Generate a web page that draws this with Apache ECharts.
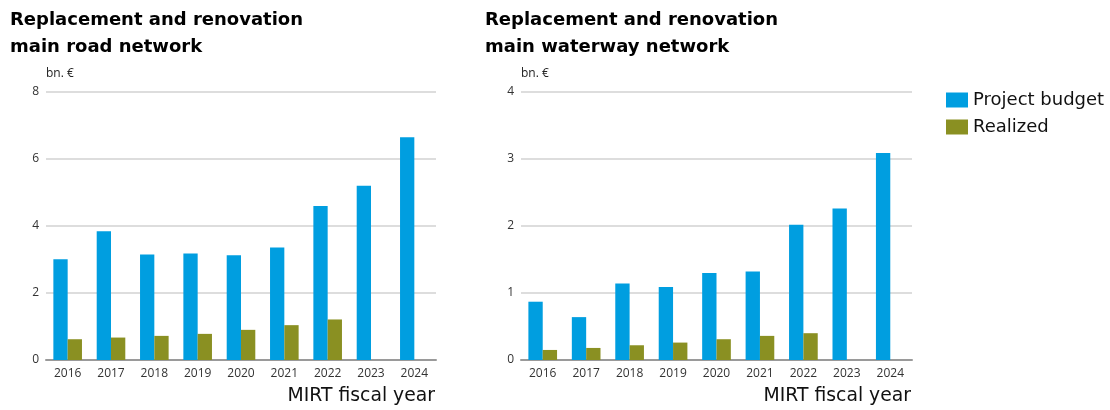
<!DOCTYPE html>
<html>
<head>
<meta charset="utf-8">
<script src="https://cdn.jsdelivr.net/npm/echarts@6/dist/echarts.min.js"></script>
<style>
  html, body { margin: 0; padding: 0; background: #fff; }
  #chart { width: 1110px; height: 410px; }
</style>
</head>
<body>
<div id="chart"></div>
<script>
// MIRT fiscal years
const years = ['2016', '2017', '2018', '2019', '2020', '2021', '2022', '2023', '2024'];

// Main road network, bn. €
const roadBudget   = [3.01, 3.84, 3.15, 3.18, 3.13, 3.36, 4.60, 5.20, 6.65];
const roadRealized = [0.62, 0.67, 0.72, 0.78, 0.90, 1.04, 1.21, null, null];

// Main waterway network, bn. €
const waterBudget   = [0.87, 0.64, 1.14, 1.09, 1.30, 1.32, 2.02, 2.26, 3.09];
const waterRealized = [0.15, 0.18, 0.22, 0.26, 0.31, 0.36, 0.40, null, null];

// Axis ticks
const roadTicks  = { min: 0, max: 8, interval: 2 };
const waterTicks = { min: 0, max: 4, interval: 1 };

const BLUE = '#009ee0';
const OLIVE = '#8a9022';
const FONT = '"DejaVu Sans", Verdana, sans-serif';
const TICK_FONT = '"Open Sans", sans-serif';

const chart = echarts.init(document.getElementById('chart'));

function xAxisFor(gridIndex) {
  return {
    type: 'category',
    gridIndex: gridIndex,
    data: years,
    axisLine: { lineStyle: { color: '#9a9a9a', width: 2 } },
    axisTick: { show: false },
    axisLabel: { color: '#333', fontFamily: TICK_FONT, fontSize: 12, margin: 8 }
  };
}

function yAxisFor(gridIndex, ticks) {
  return {
    type: 'value',
    gridIndex: gridIndex,
    min: ticks.min,
    max: ticks.max,
    interval: ticks.interval,
    name: 'bn. €',
    nameLocation: 'end',
    nameGap: 12,
    nameTextStyle: { color: '#222', fontFamily: TICK_FONT, fontSize: 12, align: 'left' },
    axisLine: { show: false },
    axisTick: { show: false },
    axisLabel: { color: '#333', fontFamily: TICK_FONT, fontSize: 12, margin: 7 },
    splitLine: { lineStyle: { color: '#d2d2d2', width: 1.5 } }
  };
}

function barSeries(name, data, color, idx) {
  return {
    name: name,
    type: 'bar',
    xAxisIndex: idx,
    yAxisIndex: idx,
    data: data,
    barWidth: '33%',
    barGap: '0%',
    itemStyle: { color: color },
    emphasis: { disabled: true }
  };
}

const titleStyle = { fontFamily: FONT, fontWeight: 'bold', fontSize: 18, color: '#000', lineHeight: 27 };

chart.setOption({
  animation: false,
  backgroundColor: '#fff',
  title: [
    {
      text: 'Replacement and renovation\nmain road network',
      left: 5, top: 2,
      textStyle: titleStyle
    },
    {
      text: 'Replacement and renovation\nmain waterway network',
      left: 480, top: 2,
      textStyle: titleStyle
    }
  ],
  legend: {
    orient: 'vertical',
    left: 941, top: 86,
    itemWidth: 22, itemHeight: 15, itemGap: 9,
    icon: 'rect',
    textStyle: { fontFamily: FONT, fontSize: 18, color: '#111' },
    data: ['Project budget', 'Realized']
  },
  grid: [
    { left: 46, right: 674, top: 92, bottom: 50 },
    { left: 521, right: 198, top: 92, bottom: 50 }
  ],
  xAxis: [xAxisFor(0), xAxisFor(1)],
  yAxis: [yAxisFor(0, roadTicks), yAxisFor(1, waterTicks)],
  series: [
    barSeries('Project budget', roadBudget, BLUE, 0),
    barSeries('Realized', roadRealized, OLIVE, 0),
    barSeries('Project budget', waterBudget, BLUE, 1),
    barSeries('Realized', waterRealized, OLIVE, 1)
  ],
  graphic: [
    {
      type: 'text', right: 1110 - 435, top: 387,
      style: { text: 'MIRT fiscal year', font: '18.8px ' + FONT, fill: '#111', textAlign: 'right' }
    },
    {
      type: 'text', right: 1110 - 911, top: 387,
      style: { text: 'MIRT fiscal year', font: '18.8px ' + FONT, fill: '#111', textAlign: 'right' }
    }
  ]
});
</script>
</body>
</html>
